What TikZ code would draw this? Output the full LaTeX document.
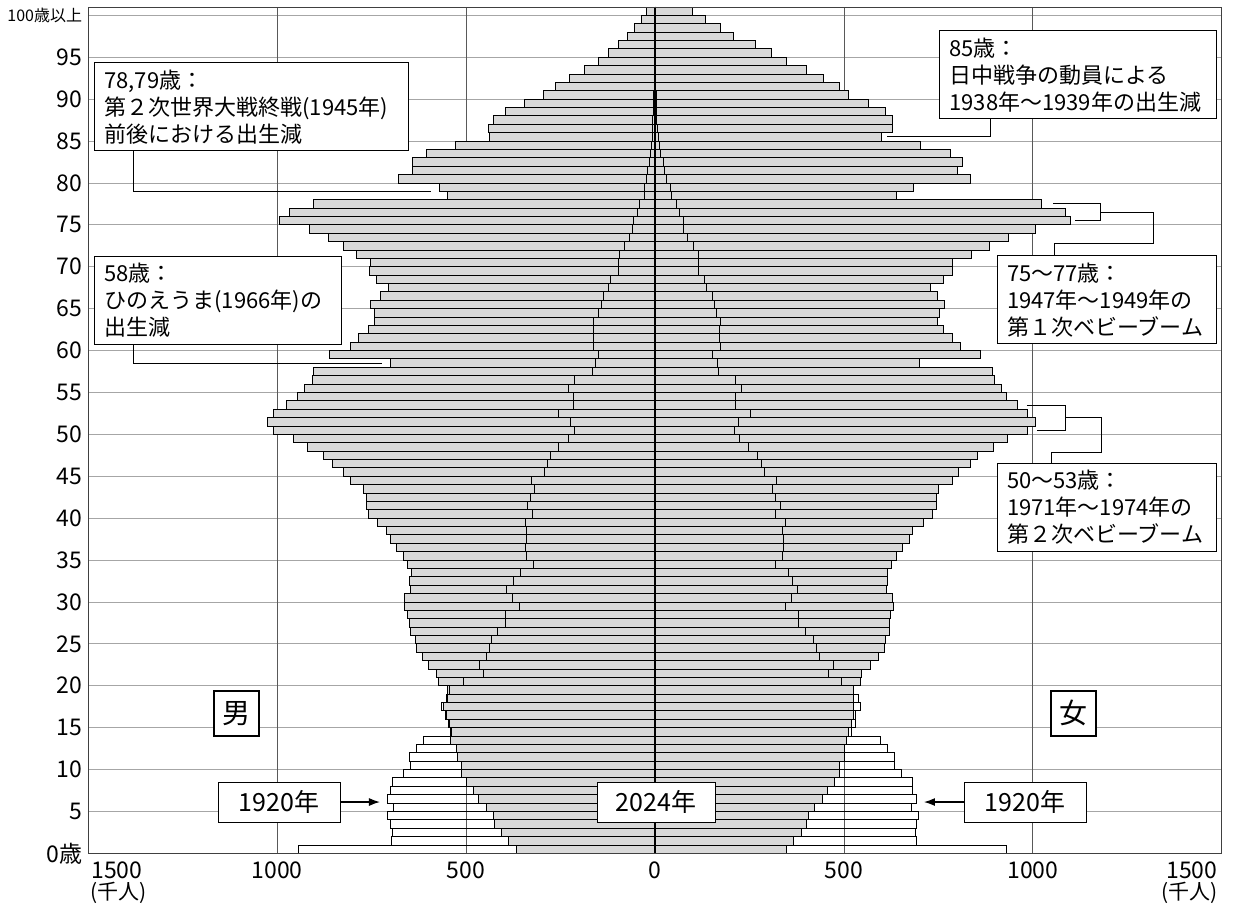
\documentclass[tikz,border=0pt]{standalone}
\usepackage{fontspec}
\newfontfamily\jpfont{Noto Sans CJK JP}
\usetikzlibrary{arrows.meta}

\begin{document}
\begin{tikzpicture}[x=0.3778pt,y=8.38pt,font=\jpfont,
	hgrid/.style={black!35,line width=0.8pt},
	vgrid/.style={black!65,line width=0.8pt},
	bar24/.style={fill=black!15,draw=black,line width=0.8pt},
	bar20/.style={draw=black,line width=0.8pt},
	note/.style={draw,line width=0.9pt,fill=white,anchor=north west,align=left,inner xsep=10pt,inner ysep=0pt,minimum height=88pt,font=\jpfont\fontsize{22}{27}\selectfont},
	lead/.style={line width=0.8pt},
	sexbox/.style={draw,line width=2pt,fill=white,minimum size=45pt,inner sep=0pt,font=\jpfont\fontsize{28}{28}\selectfont},
	yearbox/.style={draw,line width=0.9pt,fill=white,minimum width=122pt,minimum height=40pt,inner sep=0pt,font=\jpfont\fontsize{25}{25}\selectfont},
	tick/.style={inner sep=0pt,font=\jpfont\fontsize{23}{23}\selectfont}]
	\useasboundingbox (-1733.7,-6.53) rectangle (1529.9,101.83);
	% grid
	\foreach \a in {5,10,...,100} \draw[hgrid] (-1500,\a) -- (1500,\a);
	\foreach \v in {-1000,-500,500,1000} \draw[vgrid] (\v,0) -- (\v,101);
	% age / male 2024 / female 2024 / male 1920 / female 1920
	\foreach \a/\mb/\fb/\ma/\fa in {0/368/347/943/931,1/388/367/698/691,2/407/387/695/688,3/425/402/700/691,4/427/407/708/697,
		5/445/422/693/678,6/467/444/708/693,7/480/457/700/682,8/499/475/695/680,9/513/487/666/653,
		10/513/488/647/634,11/524/500/651/634,12/526/502/632/616,13/541/506/612/596,14/541/513/540/520,
		15/548/519/545/531,16/556/525/552/530,17/561/526/566/544,18/552/525/550/538,19/549/524/545/524,
		20/573/544/506/494,21/578/547/454/460,22/599/569/464/473,23/615/590/446/434,24/632/606/438/428,
		25/634/610/434/418,26/647/621/416/398,27/651/621/395/380,28/656/622/397/380,29/664/631/359/345,
		30/663/628/377/360,31/647/612/392/378,32/650/616/376/365,33/644/614/357/354,34/656/627/323/319,
		35/665/638/341/336,36/685/656/342/341,37/701/673/340/341,38/711/682/340/337,39/734/711/344/345,
		40/758/735/324/319,41/765/744/338/331,42/765/746/331/319,43/772/751/318/312,44/805/786/328/321,
		45/824/803/294/290,46/855/835/285/281,47/877/854/276/270,48/919/897/256/248,49/957/934/230/224,
		50/1010/985/214/210,51/1025/1006/225/222,52/1010/987/256/252,53/976/960/216/212,54/946/931/216/212,
		55/928/918/230/230,56/906/898/214/212,57/903/894/166/168,58/701/700/159/165,59/863/861/149/153,
		60/807/808/162/173,61/785/788/162/171,62/758/763/164/171,63/742/748/164/173,64/744/753/149/162,
		65/754/766/142/156,66/728/748/137/153,67/706/728/123/137,68/737/763/118/131,69/757/786/96/114,
		70/752/788/96/114,71/790/838/94/116,72/825/885/82/102,73/865/935/67/85,74/916/1006/61/74,
		75/993/1099/56/76,76/967/1085/47/65,77/903/1024/41/56,78/549/638/29/43,79/570/685/28/40,
		80/680/835/23/30,81/643/800/19/25,82/643/813/16/21,83/605/781/13/15,84/527/702/10/12,
		85/438/598/8/8,86/440/628/7/6,87/427/628/6/5,88/397/610/5/5,89/346/565/4/4,
		90/296/512/3/3,91/264/488/2/2,92/227/446/2/2,93/188/402/1/1,94/151/348/1/1,
		95/123/308/1/1,96/98/266/1/1,97/73/208/0/0,98/54/174/0/0,99/36/134/0/0,100/23/99/0/0}{
		\draw[bar24] (-\mb,\a) rectangle (\fb,\a+1);
		\draw[bar20] (-\ma,\a) rectangle (\fa,\a+1);
	}
	\draw[line width=2pt] (0,0) -- (0,101);
	\draw[black!75,line width=0.8pt] (-1500,0) rectangle (1500,101);

	% axis labels
	\foreach \a in {5,10,...,95} \node[tick,anchor=east,xshift=-6pt] (l\a) at (-1500,\a) {\a};
	\node[tick,anchor=east,xshift=-6pt,font=\jpfont\fontsize{16}{16}\selectfont] (l100) at (-1500,100) {100歳以上};
	\node[tick,anchor=east,xshift=-6pt] (l0) at (-1500,0) {0歳};
	\foreach \v/\t in {-1000/1000,-500/500,0/0,500/500,1000/1000} \node[tick] (x\v) at (\v,-1.98) {\t};
	\node[tick] (xl) at (-1424,-1.98) {1500};
	\node[tick] (xr) at (1421,-1.98) {1500};
	\node[tick,font=\jpfont\fontsize{21}{21}\selectfont] (ul) at (-1421,-4.73) {(千人)};
	\node[tick,font=\jpfont\fontsize{21}{21}\selectfont] (ur) at (1416,-4.73) {(千人)};

	% notes
	\node[note,text width=293.7pt] (t1) at (-1484.9,94.39) {78,79歳：\\第２次世界大戦終戦(1945年)\\前後における出生減};
	\node[note,text width=227pt] (t2) at (-1484.9,71.31) {58歳：\\ひのえうま(1966年)の\\出生減};
	\node[note,text width=256.7pt] (t3) at (751.7,98.19) {85歳：\\日中戦争の動員による\\1938年～1939年の出生減};
	\node[note,text width=199pt] (t4) at (904.4,71.34) {75～77歳：\\1947年～1949年の\\第１次ベビーブーム};
	\node[note,text width=199pt] (t5) at (904.4,46.60) {50～53歳：\\1971年～1974年の\\第２次ベビーブーム};

	\coordinate (a1) at (-1381,79);
	\coordinate (a2) at (-593,79);
	\draw[lead] (t1.south -| a1) -- (a1) -- (a2);
	\coordinate (b1) at (-1381,58.5);
	\coordinate (b2) at (-723,58.5);
	\draw[lead] (t2.south -| b1) -- (b1) -- (b2);
	\coordinate (c1) at (886.7,85.5);
	\coordinate (c2) at (613,85.5);
	\draw[lead] (t3.south -| c1) -- (c1) -- (c2);
	\coordinate (d1) at (1054,77.5);
	\coordinate (d2) at (1178,77.5);
	\coordinate (d3) at (1178,75.5);
	\coordinate (d4) at (1112,75.5);
	\coordinate (d5) at (1319,72.83);
	\coordinate (d6) at (1057,72.83);
	\draw[lead] (d1) -- (d2) -- (d3) -- (d4);
	\draw[lead] (1178,76.5) -| (d5) -- (d6) -- (d6 |- t4.north);
	\coordinate (e1) at (984,53.5);
	\coordinate (e2) at (1087,53.5);
	\coordinate (e3) at (1087,50.5);
	\coordinate (e4) at (1010,50.5);
	\coordinate (e5) at (1180.5,47.8);
	\coordinate (e6) at (1048,47.8);
	\draw[lead] (e1) -- (e2) -- (e3) -- (e4);
	\draw[lead] (1087,52) -| (e5) -- (e6) -- (e6 |- t5.north);

	% sex and year
	\node[sexbox] (s1) at (-1107.5,16.7) {男};
	\node[sexbox] (s2) at (1107.5,16.7) {女};
	\node[yearbox] (y1) at (-995.2,6.12) {1920年};
	\node[yearbox,minimum width=118pt] (y2) at (2.6,6.12) {2024年};
	\node[yearbox] (y3) at (979.4,6.12) {1920年};
	\coordinate (p1) at (-728,6.12);
	\coordinate (p3) at (712,6.12);
	\draw[line width=1.2pt,-{Latex[length=11pt,width=8pt]}] (y1.east) -- (p1);
	\draw[line width=1.2pt,-{Latex[length=11pt,width=8pt]}] (y3.west) -- (p3);
\end{tikzpicture}
\end{document}
